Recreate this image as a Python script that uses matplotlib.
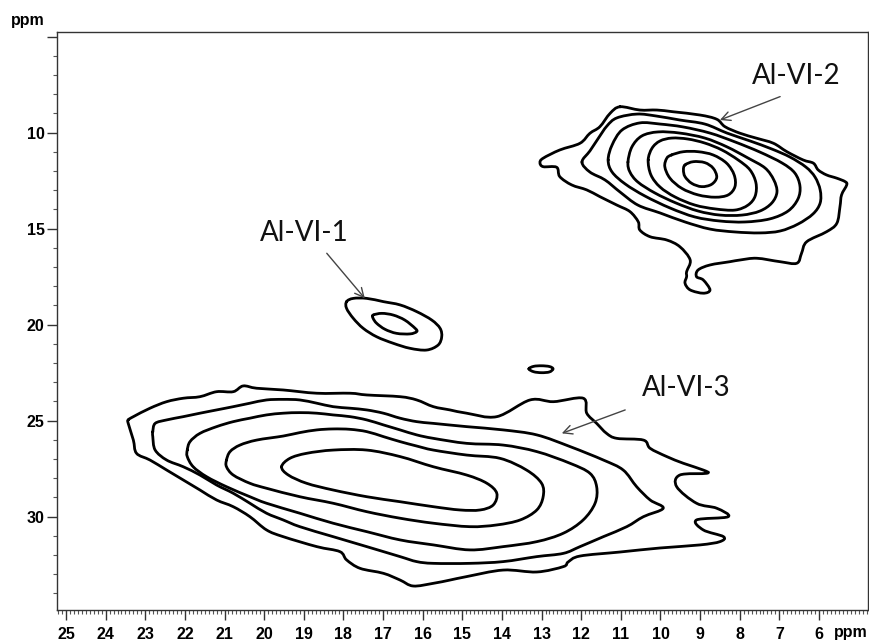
import numpy as np
import matplotlib.pyplot as plt
from matplotlib.path import Path
from matplotlib.patches import PathPatch
from matplotlib.ticker import MultipleLocator

# contour levels of the 2D map, (F2 ppm, F1 ppm) along each closed line
# Al-VI-1
al1_outer = [(17.92, 18.80), (17.75, 18.63), (17.41, 18.63), (16.99, 18.80), (16.57, 18.97),
             (16.15, 19.32), (15.77, 19.76), (15.56, 20.19), (15.52, 20.63), (15.61, 21.06),
             (15.90, 21.32), (16.32, 21.23), (16.74, 20.97), (17.16, 20.63), (17.50, 20.19),
             (17.75, 19.67), (17.92, 19.15)]
al1_inner = [(17.25, 19.50), (17.03, 19.41), (16.74, 19.50), (16.45, 19.76), (16.19, 20.19),
             (16.15, 20.36), (16.32, 20.48), (16.66, 20.45), (16.95, 20.24), (17.16, 19.93),
             (17.25, 19.67)]
# small isolated island near 13 ppm
island = [(13.32, 22.30), (13.20, 22.17), (13.00, 22.14), (12.80, 22.18), (12.71, 22.30),
          (12.80, 22.46), (13.00, 22.50), (13.20, 22.45)]

# Al-VI-2, innermost to outermost
al2_r1 = [(9.38, 11.68), (9.17, 11.51), (8.88, 11.56), (8.67, 11.85), (8.58, 12.32),
          (8.71, 12.69), (8.96, 12.81), (9.21, 12.64), (9.38, 12.29), (9.42, 11.94)]
al2_r2 = [(9.72, 11.16), (9.42, 10.99), (9.05, 10.99), (8.67, 11.16), (8.33, 11.59),
          (8.14, 12.20), (8.12, 12.81), (8.29, 13.24), (8.62, 13.36), (9.05, 13.24),
          (9.46, 12.90), (9.76, 12.37), (9.89, 11.77), (9.84, 11.33)]
al2_r3 = [(10.31, 11.42), (10.21, 10.80), (10.01, 10.43), (9.71, 10.28), (9.31, 10.33),
          (8.88, 10.54), (8.45, 10.90), (8.04, 11.42), (7.74, 11.94), (7.59, 12.62),
          (7.61, 13.30), (7.79, 13.77), (8.12, 14.03), (8.62, 13.97), (9.13, 13.77),
          (9.63, 13.35), (10.01, 12.83), (10.24, 12.20)]
al2_r4 = [(10.82, 11.53), (10.72, 10.74), (10.47, 10.17), (10.06, 9.96), (9.51, 10.02),
          (8.88, 10.28), (8.32, 10.74), (7.79, 11.32), (7.36, 11.84), (7.14, 12.46),
          (7.06, 13.09), (7.19, 13.66), (7.49, 14.08), (7.94, 14.29), (8.50, 14.29),
          (9.05, 14.08), (9.61, 13.66), (10.14, 13.14), (10.57, 12.57), (10.77, 12.05)]
al2_r5 = [(11.32, 11.42), (11.22, 10.64), (10.97, 9.86), (10.52, 9.49), (10.01, 9.55),
          (9.43, 9.70), (8.75, 10.02), (8.12, 10.48), (7.49, 11.01), (6.93, 11.58),
          (6.61, 12.10), (6.48, 12.78), (6.53, 13.45), (6.78, 14.08), (7.24, 14.49),
          (7.87, 14.65), (8.50, 14.60), (9.13, 14.39), (9.76, 13.92), (10.39, 13.30),
          (10.89, 12.67), (11.22, 12.05)]
al2_r6 = [(11.98, 11.53), (11.78, 10.95), (11.58, 10.33), (11.35, 9.65), (11.10, 9.23),
          (10.59, 9.03), (10.11, 9.13), (9.51, 9.34), (8.88, 9.55), (8.32, 10.02),
          (7.74, 10.43), (7.19, 10.85), (6.73, 11.27), (6.33, 11.79), (6.10, 12.31),
          (5.97, 12.98), (5.97, 13.66), (6.15, 14.23), (6.53, 14.76), (6.98, 15.12),
          (7.49, 15.22), (8.12, 15.17), (8.75, 15.02), (9.38, 14.65), (10.01, 14.18),
          (10.57, 13.77), (11.02, 13.09), (11.40, 12.46), (11.78, 12.05)]
al2_r7 = [(11.02, 8.65), (10.52, 8.82), (10.09, 8.82), (9.68, 8.91), (9.00, 9.08),
          (8.58, 9.30), (8.37, 9.69), (7.99, 10.03), (7.57, 10.29), (7.15, 10.55),
          (6.81, 10.99), (6.40, 11.42), (6.14, 11.59), (6.02, 11.94), (5.81, 12.20),
          (5.55, 12.37), (5.34, 12.55), (5.30, 12.72), (5.43, 13.24), (5.47, 13.85),
          (5.55, 14.72), (5.81, 15.16), (6.31, 15.68), (6.44, 16.28), (6.56, 16.80),
          (6.98, 16.72), (7.57, 16.54), (7.99, 16.63), (8.25, 16.72), (8.75, 16.89),
          (9.05, 17.15), (9.09, 17.50), (8.92, 17.67), (8.75, 18.19), (8.92, 18.36),
          (9.25, 18.19), (9.38, 17.84), (9.34, 17.50), (9.34, 17.24), (9.25, 16.63),
          (9.51, 15.94), (9.84, 15.59), (10.26, 15.42), (10.52, 15.07), (10.56, 14.64),
          (10.77, 14.11), (11.10, 13.77), (11.53, 13.33), (11.86, 12.98), (12.24, 12.72),
          (12.54, 12.29), (12.62, 11.80), (12.96, 11.77), (13.04, 11.56), (12.96, 11.33),
          (12.54, 10.90), (12.03, 10.55), (11.78, 10.03), (11.53, 9.69), (11.27, 8.99)]

# Al-VI-3, innermost to outermost
al3_r1 = [(19.56, 27.40), (19.35, 26.96), (18.93, 26.70), (18.26, 26.53), (17.41, 26.53),
          (16.57, 26.87), (15.73, 27.40), (14.89, 27.83), (14.38, 28.26), (14.13, 28.78),
          (14.22, 29.39), (14.55, 29.65), (15.06, 29.65), (15.73, 29.48), (16.57, 29.22),
          (17.41, 28.96), (18.26, 28.61), (18.93, 28.26), (19.39, 27.83)]
al3_r2 = [(20.95, 27.05), (20.86, 26.61), (20.61, 26.27), (20.19, 26.01), (19.52, 25.80),
          (19.10, 25.62), (18.67, 25.48), (18.26, 25.43), (17.83, 25.45), (17.41, 25.57),
          (16.99, 25.83), (16.57, 26.09), (16.15, 26.32), (15.73, 26.53), (14.89, 26.79),
          (14.05, 26.96), (13.38, 27.57), (13.00, 28.26), (12.96, 28.96), (13.12, 29.65),
          (13.54, 30.17), (14.13, 30.43), (14.81, 30.52), (15.73, 30.34), (16.57, 30.08),
          (17.41, 29.74), (18.26, 29.30), (19.10, 28.96), (19.94, 28.52), (20.36, 28.26),
          (20.78, 27.83), (20.95, 27.40)]
al3_r3 = [(21.94, 26.53), (21.87, 26.09), (21.62, 25.66), (21.20, 25.31), (20.78, 25.05),
          (20.36, 24.87), (19.94, 24.70), (19.52, 24.61), (19.10, 24.58), (18.67, 24.61),
          (18.26, 24.70), (17.83, 24.79), (17.41, 24.96), (16.99, 25.22), (16.57, 25.48),
          (16.15, 25.74), (15.73, 25.92), (14.89, 26.18), (13.97, 26.27), (13.12, 26.61),
          (12.28, 27.22), (11.78, 27.74), (11.61, 28.44), (11.65, 29.30), (11.95, 30.17),
          (12.45, 30.86), (13.12, 31.30), (13.97, 31.56), (14.81, 31.73), (15.73, 31.47),
          (16.57, 31.21), (17.41, 30.78), (18.26, 30.34), (19.10, 29.82), (19.94, 29.30),
          (20.36, 28.96), (20.95, 28.44), (21.45, 27.92), (21.79, 27.40), (21.94, 26.87)]
al3_r4 = [(22.81, 25.57), (22.75, 25.14), (22.46, 24.96), (22.04, 24.79), (21.62, 24.61),
          (21.20, 24.44), (20.78, 24.27), (20.36, 24.09), (19.94, 23.92), (19.52, 23.89),
          (19.10, 23.92), (18.67, 24.09), (18.26, 24.27), (17.83, 24.35), (17.41, 24.44),
          (16.99, 24.61), (16.57, 24.87), (16.15, 25.05), (15.73, 25.14), (14.89, 25.31),
          (13.97, 25.48), (13.12, 25.74), (12.28, 26.35), (11.44, 27.05), (10.94, 27.57),
          (10.60, 28.44), (10.26, 29.13), (9.93, 29.56), (10.43, 30.00), (10.85, 30.52),
          (11.44, 31.04), (12.03, 31.56), (12.45, 31.91), (13.12, 32.08), (13.97, 32.34),
          (14.81, 32.43), (15.73, 32.43), (16.15, 32.34), (16.57, 32.08), (17.41, 31.56),
          (18.26, 31.04), (19.10, 30.52), (19.52, 30.17), (19.94, 29.82), (20.36, 29.30),
          (20.78, 28.78), (21.20, 28.35), (21.62, 27.83), (22.04, 27.40), (22.46, 27.05),
          (22.75, 26.53), (22.81, 25.83)]
al3_r5 = [(23.43, 24.96), (23.30, 24.79), (22.88, 24.35), (22.46, 24.01), (22.04, 23.83),
          (21.62, 23.75), (21.20, 23.49), (20.78, 23.49), (20.53, 23.19), (20.19, 23.31),
          (19.52, 23.40), (18.67, 23.57), (17.83, 23.57), (17.41, 23.66), (16.57, 23.75),
          (16.15, 23.92), (15.73, 24.27), (15.31, 24.44), (14.89, 24.61), (14.13, 24.79),
          (13.29, 23.92), (12.70, 24.01), (11.95, 23.83), (11.86, 24.61), (11.61, 25.14),
          (11.36, 25.66), (11.10, 25.92), (10.43, 26.01), (10.26, 26.44), (9.84, 26.87),
          (9.42, 27.22), (8.92, 27.57), (8.83, 27.74), (9.51, 27.83), (9.59, 28.44),
          (9.09, 29.30), (8.58, 29.56), (8.29, 30.00), (9.09, 30.17), (8.92, 30.69),
          (8.41, 31.04), (8.50, 31.30), (9.00, 31.47), (10.01, 31.63), (11.02, 31.84),
          (12.03, 32.05), (12.33, 32.36), (12.45, 32.60), (13.12, 32.88), (13.97, 32.78),
          (14.89, 33.12), (15.31, 33.30), (15.73, 33.47), (16.24, 33.61), (16.57, 33.30),
          (16.99, 32.95), (17.58, 32.69), (17.92, 32.25), (18.09, 31.82), (18.67, 31.56),
          (19.52, 31.04), (19.94, 30.69), (20.36, 30.00), (20.78, 29.48), (21.20, 29.13),
          (21.62, 28.61), (22.04, 28.09), (22.46, 27.57), (22.88, 27.05), (23.22, 26.70),
          (23.30, 26.01), (23.43, 25.14)]

# peak labels: text, text position, arrow tail, arrow head
labels = ['Al-VI-1', 'Al-VI-2', 'Al-VI-3']
label_pos = [(18.99, 15.20), (6.58, 7.04), (9.36, 23.31)]
arrow_from = [(18.42, 16.28), (6.98, 8.12), (10.89, 24.44)]
arrow_to = [(17.46, 18.63), (8.50, 9.34), (12.49, 25.66)]

x_ticks = list(range(6, 26))
y_ticks = [5, 10, 15, 20, 25, 30]
y_ticklabels = ['', '10', '15', '20', '25', '30']


def ring_path(pts):
    # closed smooth curve through the points (Catmull-Rom as cubic Bezier)
    p = np.asarray(pts, float)
    n = len(p)
    verts = [p[0]]
    codes = [Path.MOVETO]
    for i in range(n):
        p0, p1, p2, p3 = p[i - 1], p[i], p[(i + 1) % n], p[(i + 2) % n]
        verts += [p1 + (p2 - p0) / 6, p2 - (p3 - p1) / 6, p2]
        codes += [Path.CURVE4] * 3
    return Path(verts, codes)


fig = plt.figure(figsize=(8.7, 6.43), dpi=100)
ax = fig.add_axes([57 / 870, 1 - 610 / 643, 811 / 870, 578.3 / 643])

rings = [al1_outer, al1_inner, island,
         al2_r1, al2_r2, al2_r3, al2_r4, al2_r5, al2_r6, al2_r7,
         al3_r1, al3_r2, al3_r3, al3_r4, al3_r5]
for r in rings:
    ax.add_patch(PathPatch(ring_path(r), fill=False, ec='black', lw=2.0,
                           joinstyle='round', capstyle='round'))

for txt, pos, a, b in zip(labels, label_pos, arrow_from, arrow_to):
    ax.text(pos[0], pos[1], txt, ha='center', va='center', fontsize=20,
            family='Lato', color='#111111')
    ax.annotate('', xy=b, xytext=a,
                arrowprops=dict(arrowstyle='->', color='#444444', lw=1.0,
                                shrinkA=0, shrinkB=0, mutation_scale=16))

ax.set_xlim(25.227, 4.763)
ax.set_ylim(34.86, 4.74)

ax.set_xticks(x_ticks)
ax.set_xticklabels([str(v) for v in x_ticks])
ax.xaxis.set_minor_locator(MultipleLocator(0.1))
ax.set_yticks(y_ticks)
ax.set_yticklabels(y_ticklabels)
ax.yaxis.set_minor_locator(MultipleLocator(1))

ax.tick_params(which='major', direction='out', length=7, width=1, color='#333333',
               pad=5)
ax.tick_params(which='minor', direction='out', length=3, width=0.8, color='#555555')
ax.tick_params(axis='y', which='major', pad=2)
for lab in ax.get_xticklabels() + ax.get_yticklabels():
    lab.set_fontfamily('Liberation Sans')
    lab.set_fontweight('bold')
    lab.set_fontsize(11.5)

for s in ax.spines.values():
    s.set_color('#333333')
    s.set_linewidth(1.0)

fig.text(851 / 870, 1 - 632 / 643, 'ppm', ha='center', va='center',
         family='Liberation Sans', fontweight='bold', fontsize=11.5)
fig.text(28 / 870, 1 - 20 / 643, 'ppm', ha='center', va='center',
         family='Liberation Sans', fontweight='bold', fontsize=11.5)

fig.savefig('out.png', dpi=100)
